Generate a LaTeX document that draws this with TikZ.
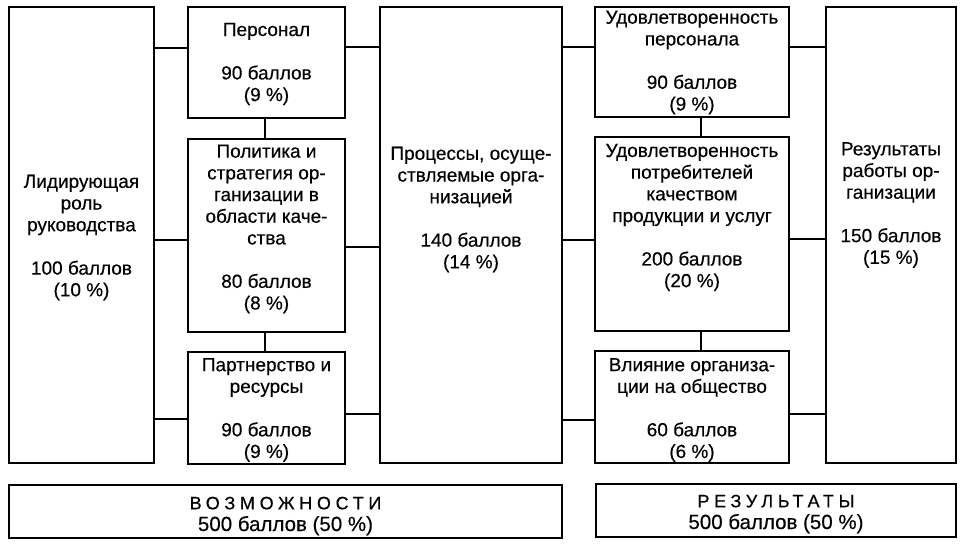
\documentclass[tikz,border=0pt]{standalone}
\usepackage{fontspec}
\setmainfont[FakeBold=0.4]{Liberation Sans}
\begin{document}
\begin{tikzpicture}[x=1pt,y=-1pt,
  box/.style={draw=black,line width=1.4pt,rectangle,inner sep=0pt},
  txt/.style={align=center,inner sep=0pt,font=\fontsize{19}{21.7}\selectfont,text=black},
  conn/.style={draw=black,line width=1.4pt}]
\useasboundingbox (0,0) rectangle (966,546);
% boxes
\node[box,minimum width=145pt,minimum height=456pt] (lead) at (81.5,235) {};
\node[box,minimum width=157pt,minimum height=111pt] (pers) at (266.5,62.5) {};
\node[box,minimum width=157pt,minimum height=193pt] (pol) at (266.5,235.5) {};
\node[box,minimum width=157pt,minimum height=112pt] (part) at (266.5,408) {};
\node[box,minimum width=182pt,minimum height=456pt] (proc) at (471,235) {};
\node[box,minimum width=194pt,minimum height=110pt] (satp) at (692,62) {};
\node[box,minimum width=194pt,minimum height=194pt] (cons) at (692,234) {};
\node[box,minimum width=194pt,minimum height=112pt] (infl) at (692,407) {};
\node[box,minimum width=130pt,minimum height=456pt] (res) at (891,235) {};
\node[box,minimum width=553pt,minimum height=53pt] (poss) at (285.5,511.5) {};
\node[box,minimum width=360pt,minimum height=53pt] (resb) at (776,510.5) {};
% texts
\node[txt] (leadt) at (81.5,237.5) {Лидирующая\\роль\\руководства\\[21.7pt]100 баллов\\(10 \%)};
\node[txt] (perst) at (266.5,64) {Персонал\\[21.7pt]90 баллов\\(9 \%)};
\node[txt] (polt) at (266.5,229) {Политика и\\стратегия ор-\\ганизации в\\области каче-\\ства\\[21.7pt]80 баллов\\(8 \%)};
\node[txt] (partt) at (266.5,410) {Партнерство и\\ресурсы\\[21.7pt]90 баллов\\(9 \%)};
\node[txt] (proct) at (471,209.5) {Процессы, осуще-\\ствляемые орга-\\низацией\\[21.7pt]140 баллов\\(14 \%)};
\node[txt] (satpt) at (692,62.5) {Удовлетворенность\\персонала\\[21.7pt]90 баллов\\(9 \%)};
\node[txt] (const) at (692,217.5) {Удовлетворенность\\потребителей\\качеством\\продукции и услуг\\[21.7pt]200 баллов\\(20 \%)};
\node[txt] (inflt) at (692,410) {Влияние организа-\\ции на общество\\[21.7pt]60 баллов\\(6 \%)};
\node[txt] (rest) at (891,205) {Результаты\\работы ор-\\ганизации\\[21.7pt]150 баллов\\(15 \%)};
\node[txt] (posst) at (285.5,516) {{\fontsize{18}{21.7}\selectfont\addfontfeature{LetterSpace=26}ВОЗМОЖНОСТИ}\\{\fontsize{20.5}{21.7}\selectfont 500 баллов (50 \%)}};
\node[txt] (resbt) at (776,514) {{\fontsize{18}{21.7}\selectfont\addfontfeature{LetterSpace=26}РЕЗУЛЬТАТЫ}\\{\fontsize{20.5}{21.7}\selectfont 500 баллов (50 \%)}};
% connector levels
\coordinate (a1) at (0,48);
\coordinate (a2) at (0,240);
\coordinate (a3) at (0,419);
\coordinate (b1) at (0,47);
\coordinate (b2) at (0,247);
\coordinate (b3) at (0,414);
\coordinate (c1) at (0,47);
\coordinate (c2) at (0,240);
\coordinate (c3) at (0,420);
\coordinate (d1) at (0,47);
\coordinate (d2) at (0,239);
\coordinate (d3) at (0,414);
\coordinate (vx1) at (265,0);
\coordinate (vx2) at (701,0);
% connectors
\draw[conn] (lead.east |- a1) -- (pers.west |- a1);
\draw[conn] (lead.east |- a2) -- (pol.west |- a2);
\draw[conn] (lead.east |- a3) -- (part.west |- a3);
\draw[conn] (pers.east |- b1) -- (proc.west |- b1);
\draw[conn] (pol.east |- b2) -- (proc.west |- b2);
\draw[conn] (part.east |- b3) -- (proc.west |- b3);
\draw[conn] (proc.east |- c1) -- (satp.west |- c1);
\draw[conn] (proc.east |- c2) -- (cons.west |- c2);
\draw[conn] (proc.east |- c3) -- (infl.west |- c3);
\draw[conn] (satp.east |- d1) -- (res.west |- d1);
\draw[conn] (cons.east |- d2) -- (res.west |- d2);
\draw[conn] (infl.east |- d3) -- (res.west |- d3);
\draw[conn] (pers.south -| vx1) -- (pol.north -| vx1);
\draw[conn] (pol.south -| vx1) -- (part.north -| vx1);
\draw[conn] (satp.south -| vx2) -- (cons.north -| vx2);
\draw[conn] (cons.south -| vx2) -- (infl.north -| vx2);
\end{tikzpicture}
\end{document}
